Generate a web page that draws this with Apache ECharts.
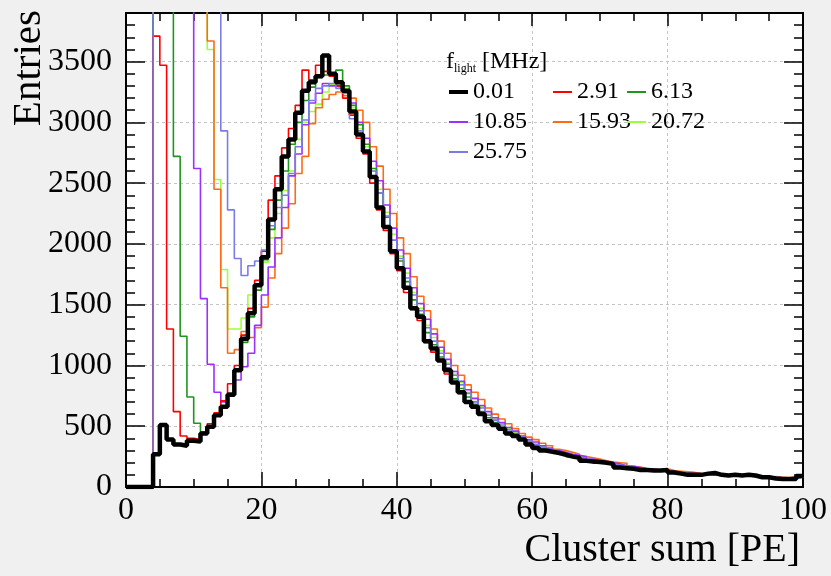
<!DOCTYPE html>
<html><head><meta charset="utf-8">
<script src="https://cdn.jsdelivr.net/npm/echarts@6/dist/echarts.min.js"></script>
<style>html,body{margin:0;padding:0;background:#f0f0f0;} #c{width:831px;height:576px;}</style>
</head><body><div id="c"></div>
<script>
// Legend labels (f_light in MHz)
const seriesNames = ['0.01','2.91','6.13','10.85','15.93','20.72','25.75'];
// Histogram bins: left edge = xMin + i*binWidth
const xMin = 0, xMax = 100, binWidth = 1;
const yMin = 0, yMax = 3900;

const h001 = [0,0,0,0,270,510,390,350,340,380,
 375,440,495,590,660,760,960,1220,1430,1660,
 1890,2200,2450,2720,2860,3080,3260,3330,3380,3550,
 3400,3330,3260,3090,2900,2760,2550,2300,2140,1940,
 1800,1640,1470,1400,1200,1140,1040,960,860,780,
 700,660,600,540,510,480,440,420,390,350,
 320,300,290,280,265,250,240,215,210,205,
 200,190,160,155,150,140,140,135,135,140,
 120,110,100,100,100,110,115,100,95,100,
 95,100,95,80,80,70,65,65,65,90];
const h291 = [0,0,0,0,3710,3470,1300,620,420,400,
 390,450,520,610,710,850,1000,1250,1470,1700,
 1940,2360,2560,2790,2950,3140,3430,3350,3470,3420,
 3380,3300,3200,3060,2870,2740,2500,2280,2110,1920,
 1780,1600,1460,1370,1190,1110,1050,930,860,770,
 710,650,590,550,500,470,440,410,390,360,
 330,300,290,275,270,250,235,220,215,200,
 195,180,165,160,150,145,140,135,130,135,
 125,115,105,100,100,105,110,100,95,95,
 90,95,90,85,80,75,70,70,65,85];
const h613 = [0,0,0,0,6500,5600,4400,2720,1240,740,
 525,450,500,590,660,770,960,1190,1400,1620,
 1870,2120,2360,2600,2820,3000,3180,3290,3370,3390,
 3400,3430,3300,3140,2980,2820,2620,2420,2220,2030,
 1860,1690,1540,1420,1270,1170,1070,980,890,810,
 740,680,620,570,530,490,450,420,400,370,
 340,320,300,285,270,255,240,225,215,195,
 200,190,170,165,155,145,140,140,130,130,
 120,115,110,105,100,105,105,100,95,90,
 90,95,90,80,80,75,75,70,70,80];
const h1085 = [0,0,0,0,9500,8500,7600,6500,5600,4600,
 2620,1550,1010,780,700,770,880,990,1100,1330,
 1580,1810,2050,2300,2560,2740,2980,3160,3240,3320,
 3300,3290,3260,3160,3000,2870,2680,2520,2320,2130,
 1950,1800,1640,1510,1380,1260,1150,1050,950,870,
 800,730,670,620,570,530,490,460,420,390,
 370,340,320,300,285,270,260,250,230,220,
 210,200,190,175,170,160,150,145,140,130,
 130,120,115,110,105,105,100,100,95,100,
 95,90,90,85,85,80,75,75,70,90];
const h1593 = [0,0,0,0,9200,8800,8300,7700,7000,6300,
 5500,4700,3670,2450,1640,1100,1130,1280,1230,1310,
 1480,1720,1920,2130,2330,2580,2720,2990,3120,3190,
 3230,3250,3220,3200,3100,3000,2800,2640,2450,2250,
 2050,1920,1730,1570,1450,1300,1200,1100,1000,920,
 840,780,720,650,600,560,520,480,440,410,
 390,360,340,310,300,285,270,250,240,230,
 215,205,200,195,170,165,150,145,140,150,
 135,130,125,120,110,105,100,100,95,95,
 95,90,90,85,80,85,80,75,90,85];
const h2072 = [0,0,0,0,9000,8600,8000,7400,6800,6100,
 5400,4600,3600,2530,1790,1300,1300,1390,1580,1620,
 1850,2050,2250,2440,2600,2860,3000,3090,3150,3250,
 3310,3320,3280,3120,2950,2800,2600,2450,2260,2080,
 1900,1760,1600,1470,1330,1230,1120,1020,930,860,
 780,720,660,600,560,520,480,450,420,380,
 360,335,315,300,280,265,255,240,225,215,
 205,195,185,175,165,155,150,140,135,130,
 125,120,115,110,105,100,100,95,95,90,
 90,90,85,85,80,80,75,75,70,85];
const h2575 = [0,0,0,0,9800,9500,9000,8500,8000,7400,
 6800,6000,5200,4400,2930,2280,1880,1740,1820,1860,
 1950,2150,2300,2400,2580,2800,3020,3180,3280,3300,
 3320,3280,3240,3030,2930,2760,2600,2420,2230,2030,
 1880,1720,1580,1450,1310,1200,1100,1010,920,840,
 770,700,650,590,550,510,470,440,410,380,
 350,330,310,290,275,260,250,235,220,210,
 200,190,180,170,160,150,145,140,135,130,
 125,120,110,105,105,100,100,95,95,90,
 90,90,85,85,80,80,75,75,70,85];

const F = '"Liberation Serif", "Times New Roman", serif';
const specs = [
  {name: seriesNames[5], vals: h2072, color: '#9cff3c', w: 1.6},
  {name: seriesNames[4], vals: h1593, color: '#ff6a14', w: 1.6},
  {name: seriesNames[3], vals: h1085, color: '#9b30ff', w: 1.6},
  {name: seriesNames[2], vals: h613,  color: '#1e961e', w: 1.6},
  {name: seriesNames[1], vals: h291,  color: '#ff0000', w: 1.6},
  {name: seriesNames[6], vals: h2575, color: '#7b7be6', w: 1.6},
  {name: seriesNames[0], vals: h001,  color: '#000000', w: 4.5}
];
function stepData(vals) {
  const d = vals.map((v, i) => [xMin + i * binWidth, v]);
  d.push([xMin + vals.length * binWidth, vals[vals.length - 1]]);
  return d;
}
const series = specs.map((s, k) => ({
  type: 'line', name: s.name, data: stepData(s.vals), step: 'end',
  symbol: 'none', showSymbol: false, clip: true, z: 2 + k,
  lineStyle: {color: s.color, width: s.w}, itemStyle: {color: s.color}
}));

const lineSt = {color: '#000', width: 2};
const tickSt = {color: '#000', width: 1.5};
const dotted = {color: '#c4c4c4', type: [3, 3], width: 1};
function xAx(pos, main) {
  return {type: 'value', position: pos, min: xMin, max: xMax, interval: 20,
    axisLine: {show: true, onZero: false, lineStyle: lineSt},
    axisTick: {show: true, inside: true, length: main ? 15 : 13, lineStyle: tickSt},
    minorTick: {show: true, splitNumber: 4, length: 8, lineStyle: tickSt},
    splitLine: {show: main, lineStyle: dotted},
    axisLabel: main ? {show: true, fontFamily: F, fontSize: 32, color: '#000', margin: 8,
      formatter: v => String(v)} : {show: false}};
}
function yAx(pos, major, labels) {
  return {type: 'value', position: pos, min: yMin, max: yMax, interval: major ? 500 : 100,
    axisLine: {show: true, onZero: false, lineStyle: lineSt},
    axisTick: {show: true, inside: true, length: major ? 19 : 9, lineStyle: tickSt},
    splitLine: {show: major && labels, lineStyle: dotted},
    axisLabel: labels ? {show: true, fontFamily: F, fontSize: 32, color: '#000', margin: 14, showMaxLabel: false,
      formatter: v => String(v)} : {show: false}};
}
function leg(name, left, top, h) {
  return {show: true, selectedMode: false, data: [name], left: left, top: top, padding: 0,
    icon: 'rect', itemWidth: 19, itemHeight: h,
    textStyle: {fontFamily: F, fontSize: 24, lineHeight: 24, color: '#000', fontWeight: 'normal'}};
}
const chart = echarts.init(document.getElementById('c'), null, {renderer: 'canvas'});
chart.setOption({
  animation: false,
  backgroundColor: 'transparent',
  grid: {left: 126, top: 13, width: 677, height: 474, show: true, backgroundColor: '#ffffff', borderWidth: 0},
  xAxis: [xAx('bottom', true), xAx('top', false)],
  yAxis: [yAx('left', true, true), yAx('left', false, false), yAx('right', true, false), yAx('right', false, false)],
  title: {left: 446, top: 49, padding: 0,
    text: '{a|f}{b|light}{a| [MHz]}',
    textStyle: {fontWeight: 'normal', rich: {
      a: {fontFamily: F, fontSize: 24, lineHeight: 26, color: '#000', fontWeight: 'normal'},
      b: {fontFamily: F, fontSize: 12, lineHeight: 12, color: '#000', fontWeight: 'normal', verticalAlign: 'bottom'}
    }}},
  legend: [
    leg(seriesNames[0], 449, 80, 4),
    leg(seriesNames[3], 449, 110, 2),
    leg(seriesNames[6], 449, 140, 2),
    leg(seriesNames[1], 553, 80, 2),
    leg(seriesNames[4], 553, 110, 2),
    leg(seriesNames[2], 627, 80, 2),
    leg(seriesNames[5], 627, 110, 2)
  ],
  graphic: [
    {type: 'text', x: 800, y: 550, style: {text: 'Cluster sum [PE]', font: '40px ' + F, fill: '#000',
      textAlign: 'right', textVerticalAlign: 'middle', align: 'right', verticalAlign: 'middle'}},
    {type: 'text', x: 29, y: 10, rotation: Math.PI / 2, style: {text: 'Entries', font: '41px ' + F, fill: '#000',
      textAlign: 'right', textVerticalAlign: 'middle', align: 'right', verticalAlign: 'middle'}}
  ],
  series: series
});
</script></body></html>
